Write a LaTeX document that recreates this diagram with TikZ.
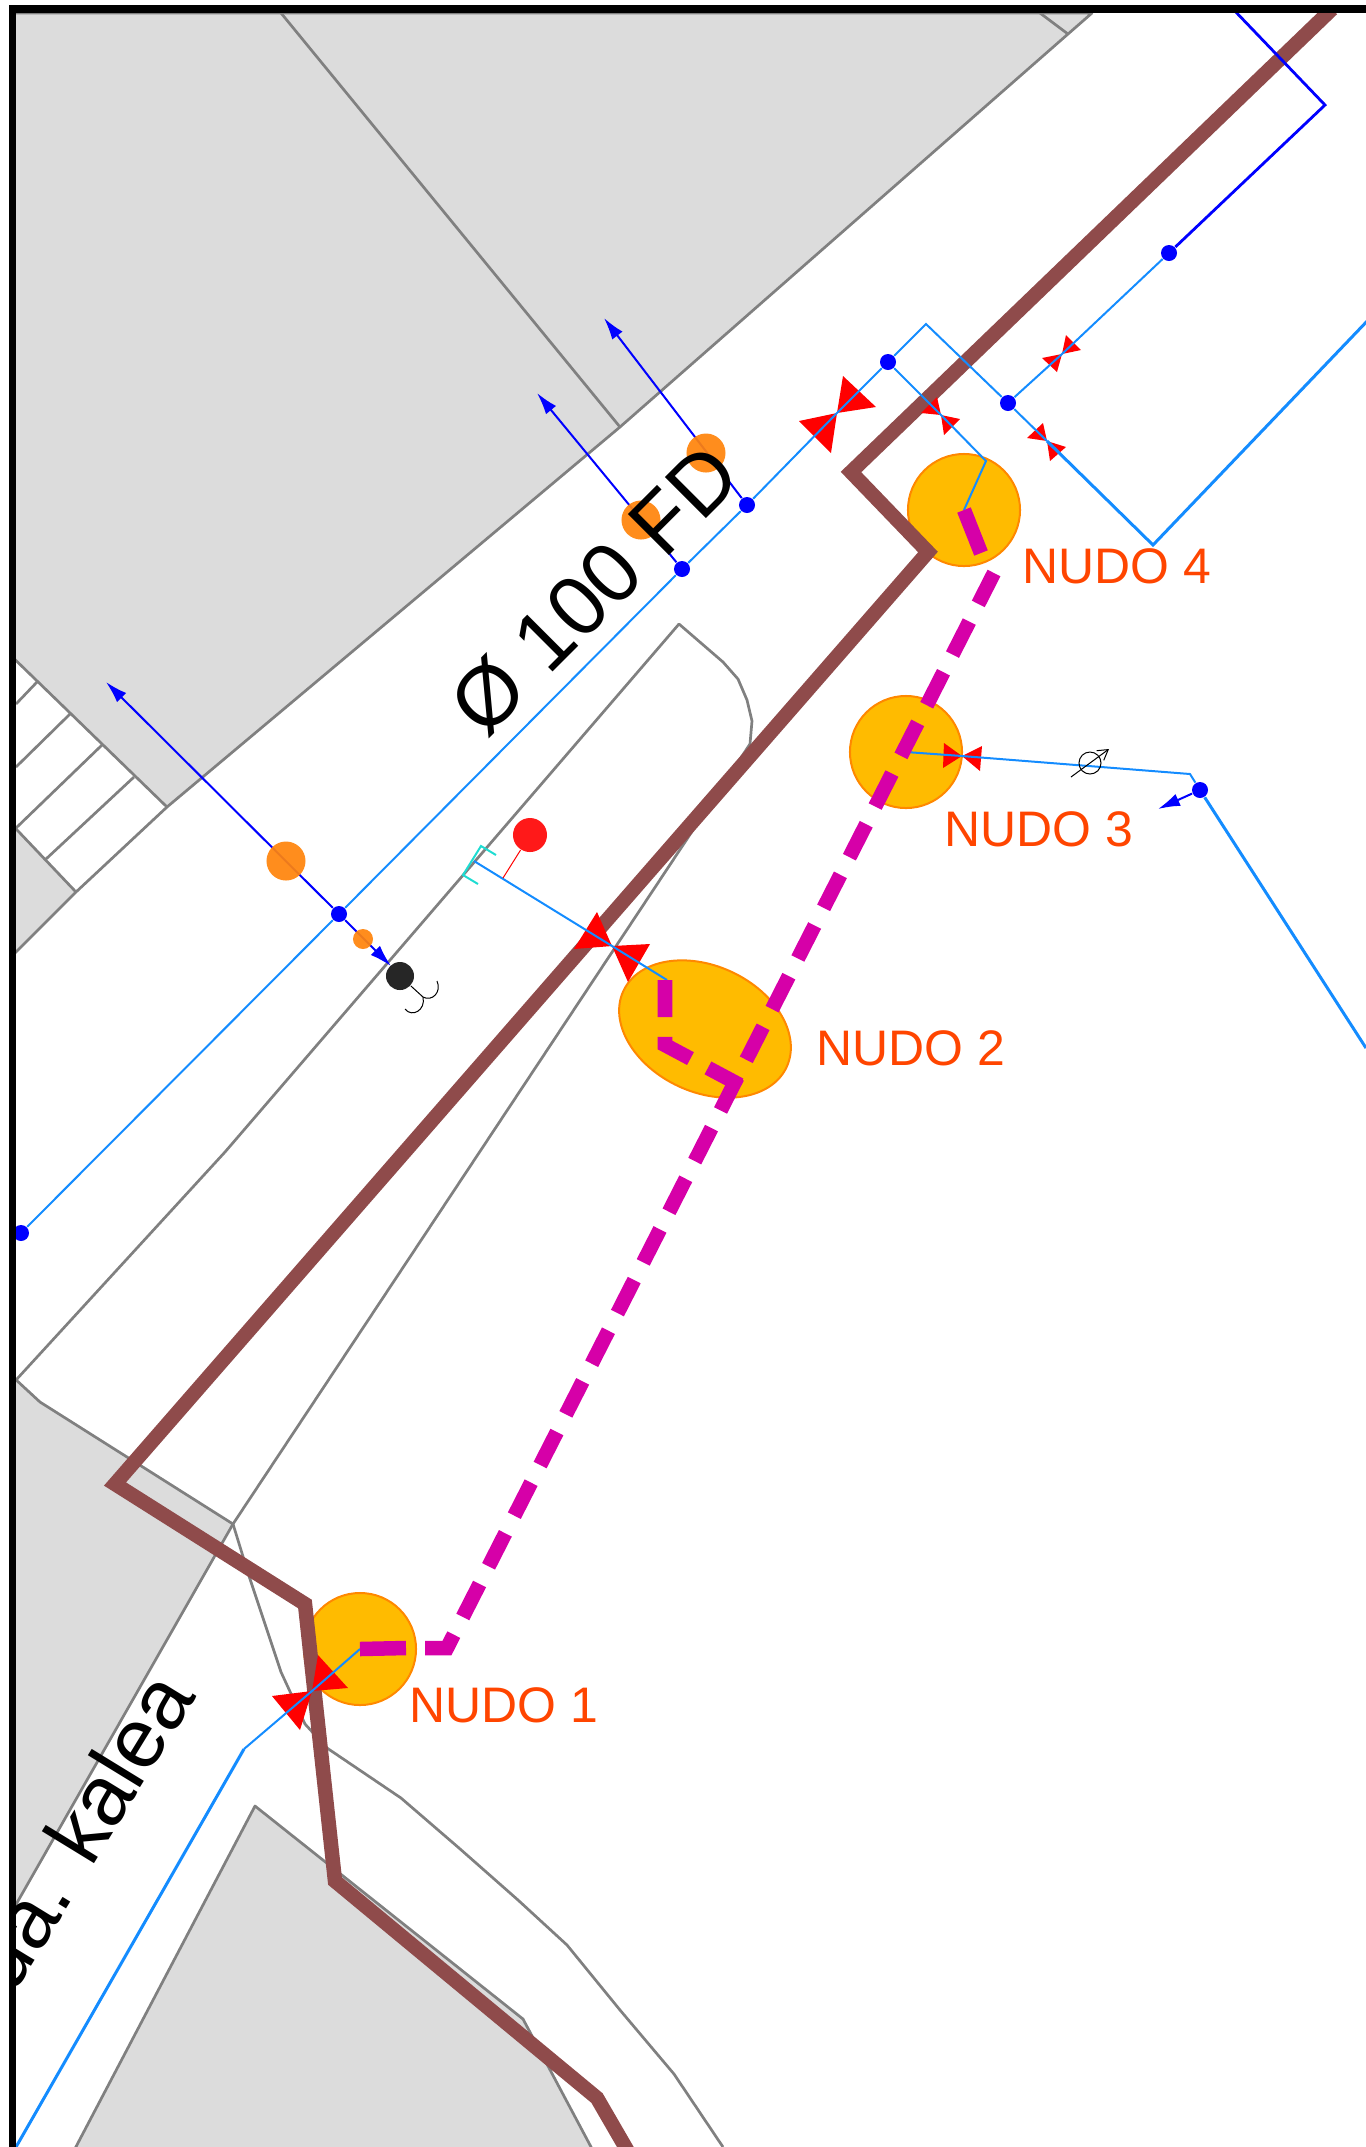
\documentclass[tikz,border=0pt]{standalone}
\usepackage{fontspec}
\setmainfont{Liberation Sans}
\usepackage{tikz}
\usetikzlibrary{arrows.meta,shapes.geometric}
\definecolor{parcelgray}{RGB}{220,220,220}
\definecolor{edgegray}{RGB}{128,128,128}
\definecolor{wallbrown}{RGB}{143,75,75}
\definecolor{pipeblue}{RGB}{20,140,255}
\definecolor{nudofill}{RGB}{255,187,0}
\definecolor{nudoedge}{RGB}{255,136,0}
\definecolor{nudotext}{RGB}{255,69,0}
\definecolor{routepink}{RGB}{214,0,168}
\definecolor{tapfill}{RGB}{255,132,12}
\definecolor{bracketcyan}{RGB}{30,220,210}
\tikzset{
  parcel/.style={fill=parcelgray,draw=edgegray,line width=.27mm,line join=round},
  edgeline/.style={draw=edgegray,line width=.27mm,line join=round},
  wall/.style={draw=wallbrown,line width=1.45mm,line join=miter},
  pipe/.style={draw=pipeblue,line width=.2mm},
  thickpipe/.style={draw=pipeblue,line width=.3mm},
  feed/.style={draw=blue,line width=.2mm},
  feedarrow/.style={feed,-{Latex[length=2.2mm,width=1.3mm]}},
  joint/.style={circle,fill=blue,inner sep=0pt,minimum size=.16cm},
  tap/.style={circle,fill=tapfill,fill opacity=.93,inner sep=0pt,minimum size=#1},
  nudo/.style={circle,draw=nudoedge,fill=nudofill,line width=.2mm,inner sep=0pt,minimum size=1.12cm},
  nudolabel/.style={text=nudotext,inner sep=0pt,font=\fontsize{14.2}{16}\selectfont},
  streetlabel/.style={inner sep=0pt,font=\fontsize{24}{28}\selectfont},
  route/.style={draw=routepink,line width=1.45mm,dash pattern=on 3.7mm off 1.98mm,line join=miter},
  routestub/.style={draw=routepink,line width=1.45mm},
}
\newcommand{\bowvalve}[5]{\fill[red] #1 -- #2 -- #3 -- cycle; \fill[red] #1 -- #4 -- #5 -- cycle;}
\begin{document}
\begin{tikzpicture}[x=.01cm,y=-.01cm]
\useasboundingbox (0,0) rectangle (1366,2147);
\begin{scope}
\clip (16,13) rectangle (1366,2147);
    % Parcels
\draw[parcel] (0,13) -- (1092,13) -- (1068,34) -- (620,427) -- (167,807) -- (0,645) -- cycle;
\draw[edgeline] (1040,13) -- (1068,34);
\draw[edgeline] (281,13) -- (620,427);
\draw[parcel] (0,812) -- (76,892) -- (0,968) -- cycle;
\draw[parcel] (0,1365) -- (40,1402) -- (233,1524) -- (10,1915) -- (0,1915) -- cycle;
\draw[parcel] (69,2160) -- (255,1806) -- (523,2019) -- (598,2160) -- cycle;
    % Crossing and kerbs
\draw[edgeline] (37,682) -- (16,704);
\draw[edgeline] (70,714) -- (16,767);
\draw[edgeline] (102,745) -- (16,828);
\draw[edgeline] (134,777) -- (46,859);
\draw[edgeline] (167,807) -- (76,892);
\draw[edgeline] (16,1380) -- (225,1152) -- (679,624) -- (723,662) -- (738,679) -- (747,700) -- (752,721) -- (750,744) -- (233,1524);
\draw[edgeline] (233,1524) -- (249,1576) -- (281,1672) -- (305,1724) -- (327,1748) -- (401,1798) -- (459,1848) -- (518,1900) -- (567,1945) -- (620,2010) -- (674,2074) -- (723,2147);
    % Nudos
\node[nudo] (nudo1) at (360,1649) {};
\node[nudo,ellipse,minimum width=1.8cm,minimum height=1.26cm,rotate=-25] (nudo2) at (705,1029) {};
\node[nudo] (nudo3) at (906,752) {};
\node[nudo] (nudo4) at (964,510) {};
    % Wall
\draw[wall] (1332,9) -- (851,472) -- (928,552) -- (115,1484) -- (305,1604) -- (335,1881) -- (597,2098) -- (630,2155);
    % Valves
\coordinate (v1) at (312,1691);
\coordinate (v2) at (612,946);
\coordinate (v3) at (962,756);
\coordinate (v4) at (837,413);
\coordinate (v5) at (941,415);
\coordinate (v6) at (1047,441);
\coordinate (v7) at (1062,354);
\bowvalve{(v1)}{(318,1655)}{(348,1688)}{(272,1696)}{(300,1730)}
\bowvalve{(v2)}{(597,912)}{(574,949)}{(650,944)}{(628,982)}
\bowvalve{(v3)}{(944,743)}{(943,768)}{(982,746)}{(980,771)}
\bowvalve{(v4)}{(843,376)}{(876,407)}{(799,421)}{(831,453)}
\bowvalve{(v5)}{(937,397)}{(921,413)}{(960,419)}{(944,435)}
\bowvalve{(v6)}{(1043,423)}{(1027,438)}{(1066,447)}{(1050,461)}
\bowvalve{(v7)}{(1066,335)}{(1081,350)}{(1042,358)}{(1057,372)}
    % Joints
\node[joint] (j1) at (21,1233) {};
\node[joint] (j2) at (339,914) {};
\node[joint] (j3) at (682,569) {};
\node[joint] (j4) at (747,505) {};
\node[joint] (j5) at (888,362) {};
\node[joint] (j6) at (1008,403) {};
\node[joint] (j7) at (1169,253) {};
\node[joint] (j8) at (1200,790) {};
    % Feeds
\coordinate (a1) at (106,682);
\coordinate (a2) at (391,966);
\coordinate (a3) at (537,393);
\coordinate (a4) at (604,318);
\coordinate (a5) at (1158,809);
\draw[feedarrow] (j2) -- (a1);
\draw[feedarrow] (j2) -- (a2);
\draw[feedarrow] (j3) -- (a3);
\draw[feedarrow] (j4) -- (a4);
\draw[feedarrow] (j8) -- (a5);
\coordinate (b1) at (1325,105);
\coordinate (b2) at (1232,8);
\draw[feed,line width=.28mm] (j7) -- (b1) -- (b2);
    % Taps
\node[tap=.39cm] (t1) at (286,861) {};
\node[tap=.2cm] (t2) at (363,939) {};
\node[tap=.39cm] (t3) at (641,520) {};
\node[tap=.39cm] (t4) at (706,453) {};
\node[circle,fill=black!85,inner sep=0pt,minimum size=.28cm] (plug) at (400,976) {};
\coordinate (c0) at (423,997);
\draw[line width=.1mm] (plug) -- (c0);
\draw[line width=.1mm] (c0) .. controls (432,1002) and (442,992) .. (437,981);
\draw[line width=.1mm] (c0) .. controls (426,1010) and (412,1018) .. (405,1009);
    % Pipes
\coordinate (p1) at (926,324);
\coordinate (p2) at (1153,545);
\coordinate (p3) at (1372,316);
\coordinate (p4) at (986,461);
\coordinate (p5) at (474,861);
\coordinate (p6) at (667,980);
\coordinate (p7) at (1190,774);
\coordinate (p8) at (1366,1048);
\coordinate (p9) at (244,1749);
\coordinate (p10) at (16,2147);
\draw[pipe] (j1) -- (j2) -- (j3) -- (j4) -- (v4) -- (j5) -- (p1) -- (j6) -- (v6);
\draw[thickpipe] (v6) -- (p2) -- (p3);
\draw[pipe] (j6) -- (v7) -- (j7);
\draw[pipe] (j5) -- (v5) -- (p4) -- (nudo4.center);
\draw[pipe] (p5) -- (v2) -- (p6);
\draw[pipe] (nudo3.center) -- (v3) -- (p7) -- (j8);
\draw[thickpipe] (j8) -- (p8);
\draw[thickpipe] (p10) -- (p9);
\draw[pipe] (p9) -- (v1) -- (nudo1.center);
\draw[draw=bracketcyan,line width=.2mm] (496,855) -- (481,846) -- (463,875) -- (478,884);
\node[circle,fill=red!90!white,inner sep=0pt,minimum size=.34cm] (hydrant) at (530,835) {};
\coordinate (h1) at (503,878);
\draw[red,line width=.1mm] (hydrant) -- (h1);
    % Meter
\node[circle,draw=black,line width=.1mm,inner sep=0pt,minimum size=.22cm] (meter) at (1090,763) {};
\coordinate (m1) at (1071,777);
\coordinate (m2) at (1109,749);
\draw[line width=.1mm,-{Straight Barb[length=1mm,width=1.2mm]}] (m1) -- (m2);
    % Route
\coordinate (r0) at (406,1648);
\coordinate (r00) at (425,1648);
\coordinate (r1) at (447,1648);
\coordinate (r2) at (994,573);
\coordinate (r3) at (740,1085);
\coordinate (r4) at (665,1045);
\coordinate (r5) at (665,980);
\coordinate (r6) at (981,553);
\draw[routestub] (nudo1.center) -- (r0);
\draw[route] (r00) -- (r1) -- (r2);
\draw[routestub] (nudo4.center) -- (r6);
\draw[route] (r5) -- (r4) -- (r3);
    % Labels
\node[nudolabel] (l1) at (504,1705) {NUDO 1};
\node[nudolabel] (l2) at (911,1048) {NUDO 2};
\node[nudolabel] (l3) at (1039,829) {NUDO 3};
\node[nudolabel] (l4) at (1117,566) {NUDO 4};
\node[streetlabel,rotate=45,anchor=base] (pipelabel) at (615,610) {Ø 100 FD};
\node[streetlabel,rotate=58.5,anchor=base east] (street) at (197,1696) {ua. kalea};
\end{scope}
    % Frame
\draw[line width=.75mm,line join=miter] (12.5,2147) -- (12.5,9) -- (1366,9);
\end{tikzpicture}
\end{document}
